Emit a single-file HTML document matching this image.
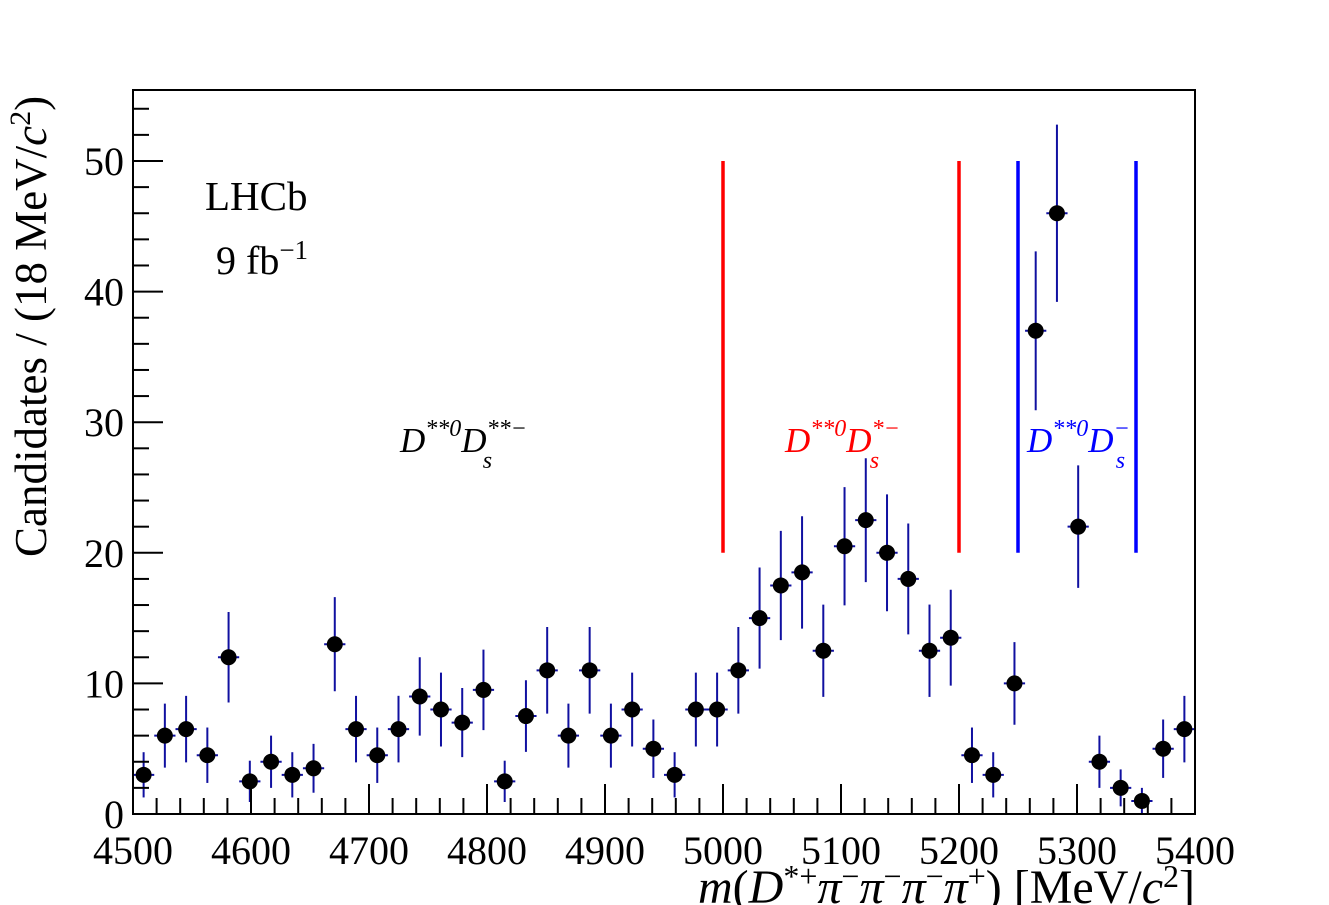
<!DOCTYPE html>
<html><head><meta charset="utf-8"><style>
html,body{margin:0;padding:0;background:#fff;}
svg{display:block;font-family:"Liberation Serif",serif;}
</style></head><body>
<svg id="chart" width="1329" height="905" viewBox="0 0 1329 905" xmlns="http://www.w3.org/2000/svg">
<g id="marks"></g>
<g id="axes"></g>
<text x="205" y="210" font-size="41">LHCb</text>
<text x="216" y="274" font-size="40">9 fb<tspan font-size="27" dy="-15">−1</tspan></text>
<text x="400" y="452" font-size="35" font-style="italic">D<tspan font-size="24" dy="-16">**0</tspan><tspan dy="16">D</tspan><tspan font-size="24" dy="-16">**−</tspan><tspan font-size="24" dx="-44" dy="32">s</tspan></text>
<text x="785" y="452" font-size="35" font-style="italic" fill="#ff0000">D<tspan font-size="24" dy="-16">**0</tspan><tspan dy="16">D</tspan><tspan font-size="24" dy="-16">*−</tspan><tspan font-size="24" dx="-30" dy="32">s</tspan></text>
<text x="1027" y="452" font-size="35" font-style="italic" fill="#0000ff">D<tspan font-size="24" dy="-16">**0</tspan><tspan dy="16">D</tspan><tspan font-size="24" dy="-16">−</tspan><tspan font-size="24" dx="-14" dy="32">s</tspan></text>
<text transform="translate(46,557) rotate(-90)" font-size="45">Candidates / (18 MeV/<tspan font-style="italic">c</tspan><tspan font-size="30" dy="-16">2</tspan><tspan dy="16">)</tspan></text>
<text x="1195" y="903" text-anchor="end" font-size="48"><tspan font-style="italic">m</tspan>(<tspan font-style="italic">D</tspan><tspan font-size="32" dy="-16">*+</tspan><tspan dy="16" font-style="italic">π</tspan><tspan font-size="32" dy="-16">−</tspan><tspan dy="16" font-style="italic">π</tspan><tspan font-size="32" dy="-16">−</tspan><tspan dy="16" font-style="italic">π</tspan><tspan font-size="32" dy="-16">−</tspan><tspan dy="16" font-style="italic">π</tspan><tspan font-size="32" dy="-16">+</tspan><tspan dy="16">) [MeV/</tspan><tspan font-style="italic">c</tspan><tspan font-size="32" dy="-16">2</tspan><tspan dy="16">]</tspan></text>
</svg>
<script>
const binCenters = [4509,4527,4545,4563,4581,4599,4617,4635,4653,4671,4689,4707,4725,4743,4761,4779,4797,4815,4833,4851,4869,4887,4905,4923,4941,4959,4977,4995,5013,5031,5049,5067,5085,5103,5121,5139,5157,5175,5193,5211,5229,5247,5265,5283,5301,5319,5337,5355,5373,5391];
const counts = [3,6,6.5,4.5,12,2.5,4,3,3.5,13,6.5,4.5,6.5,9,8,7,9.5,2.5,7.5,11,6,11,6,8,5,3,8,8,11,15,17.5,18.5,12.5,20.5,22.5,20,18,12.5,13.5,4.5,3,10,37,46,22,4,2,1,5,6.5];
const binWidth = 18;
const xTicks = [4500,4600,4700,4800,4900,5000,5100,5200,5300,5400];
const yTicks = [0,10,20,30,40,50];
const redLines = [5000,5200];
const blueLines = [5250,5350];
const X0=133,X1=1195,Y0=814,Ytop=90;
const xs = v => X0 + (v-4500)/900*(X1-X0);
const ys = v => Y0 - v*(Y0-161)/50;
const NS='http://www.w3.org/2000/svg';
function mk(tag, attrs, parent){const e=document.createElementNS(NS,tag);for(const k in attrs)e.setAttribute(k,attrs[k]);parent.appendChild(e);return e;}
const marks=document.getElementById('marks'), axes=document.getElementById('axes');
redLines.forEach(v=>{const l=mk('line',{x1:xs(v),x2:xs(v),y1:ys(50),y2:ys(20),stroke:'#ff0000','stroke-width':3.5},marks);

});
blueLines.forEach(v=>{const l=mk('line',{x1:xs(v),x2:xs(v),y1:ys(50),y2:ys(20),stroke:'#0000ff','stroke-width':3.5},marks);

});
binCenters.forEach((c,i)=>{const n=counts[i],e=Math.sqrt(n);const g=mk('g',{},marks);


mk('line',{x1:xs(c),x2:xs(c),y1:ys(n+e),y2:Math.min(ys(n-e),Y0),stroke:'#1010a0','stroke-width':2},g);
mk('line',{x1:xs(c-binWidth/2),x2:xs(c+binWidth/2),y1:ys(n),y2:ys(n),stroke:'#1010a0','stroke-width':2},g);
mk('circle',{cx:xs(c),cy:ys(n),r:8,fill:'#000'},g);});
const fr=mk('rect',{x:X0,y:Ytop,width:X1-X0,height:Y0-Ytop,fill:'none',stroke:'#000','stroke-width':2},axes);


for(let v=4500;v<=5400;v+=20){const big=v%100===0;mk('line',{x1:xs(v),x2:xs(v),y1:Y0,y2:Y0-(big?30:16),stroke:'#000','stroke-width':2},axes);}
for(let v=0;v<=54;v+=2){const big=v%10===0;mk('line',{x1:X0,x2:X0+(big?30:16),y1:ys(v),y2:ys(v),stroke:'#000','stroke-width':2},axes);}
xTicks.forEach(v=>{const t=mk('text',{x:xs(v),y:864,'text-anchor':'middle','font-size':40},axes);t.textContent=v;

});
yTicks.forEach(v=>{const t=mk('text',{x:124,y:ys(v)+14,'text-anchor':'end','font-size':40},axes);t.textContent=v;

});
</script>
</body></html>
